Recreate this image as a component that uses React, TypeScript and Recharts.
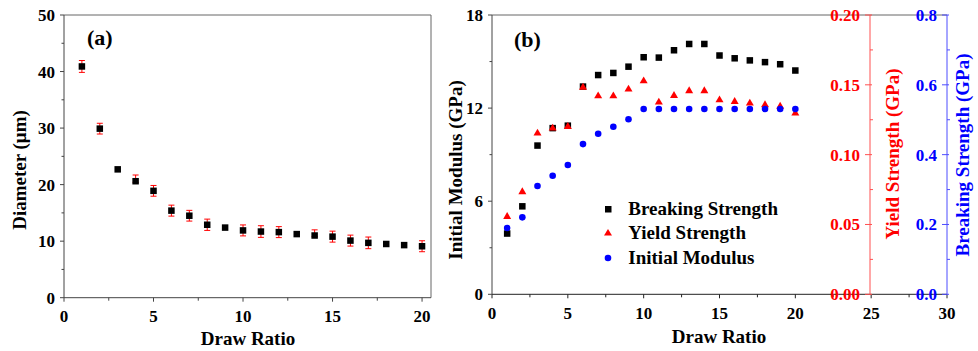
import React from 'react'
import {
  ScatterChart,
  Scatter,
  XAxis,
  YAxis,
  ErrorBar,
  ReferenceLine,
  Label,
  Legend,
} from 'recharts'

const drawRatio = [1, 2, 3, 4, 5, 6, 7, 8, 9, 10, 11, 12, 13, 14, 15, 16, 17, 18, 19, 20]

// (a) fibre diameter, µm
const diameter = [40.9, 29.9, 22.7, 20.6, 18.9, 15.4, 14.5, 12.9, 12.4, 11.9, 11.7, 11.6, 11.25, 11.0, 10.8, 10.1, 9.7, 9.5, 9.3, 9.1]
const diameterErr: (number | number[])[] = [1.05, 0.95, 0, [0.2, 1.1], 0.95, 0.97, 0.95, 1.0, 0, 0.97, 1.03, 0.97, 0, [0.2, 1.0], 0.97, 0.97, 1.03, 0, 0, 0.97]

// (b) mechanical properties
const breakingStrength = [0.174, 0.252, 0.426, 0.476, 0.483, 0.595, 0.628, 0.634, 0.652, 0.679, 0.678, 0.699, 0.717, 0.717, 0.684, 0.676, 0.67, 0.665, 0.659, 0.641]
const yieldStrength = [0.0556, 0.0733, 0.1153, 0.1189, 0.12, 0.1482, 0.142, 0.142, 0.1468, 0.1527, 0.1375, 0.1422, 0.1456, 0.1456, 0.1391, 0.1379, 0.1368, 0.1356, 0.1345, 0.1296]
const initialModulus = [4.27, 4.96, 6.98, 7.64, 8.33, 9.68, 10.35, 10.8, 11.28, 11.94, 11.94, 11.94, 11.94, 11.94, 11.94, 11.94, 11.94, 11.94, 11.94, 11.94]

const legendOrder = ['Breaking Strength', 'Yield Strength', 'Initial Modulus']

const xTicksA = [0, 2.5, 5, 7.5, 10, 12.5, 15, 17.5, 20]
const yTicksA = [0, 5, 10, 15, 20, 25, 30, 35, 40, 45, 50]
const xTicksB = [0, 2.5, 5, 7.5, 10, 12.5, 15, 17.5, 20, 22.5, 25, 27.5, 30]
const yTicksModulus = [0, 3, 6, 9, 12, 15, 18]
const yTicksYield = [0, 0.025, 0.05, 0.075, 0.1, 0.125, 0.15, 0.175, 0.2]
const yTicksBreaking = [0, 0.1, 0.2, 0.3, 0.4, 0.5, 0.6, 0.7, 0.8]

const FONT = '"Liberation Serif", "Times New Roman", serif'
const RED = '#ff0000'
const BLUE = '#0000ff'

const diameterData = drawRatio.map((x, i) => ({ x, y: diameter[i], err: diameterErr[i] }))
const breakingData = drawRatio.map((x, i) => ({ x, y: breakingStrength[i] }))
const yieldData = drawRatio.map((x, i) => ({ x, y: yieldStrength[i] }))
const modulusData = drawRatio.map((x, i) => ({ x, y: initialModulus[i] }))

type Side = 'bottom' | 'left' | 'right'

function makeTick(side: Side, fmt: (v: number) => string, color = '#000', lineColor = '#444', labelGap = 24) {
  return function Tick(props: any) {
    const { x, y, payload, index } = props
    const major = index % 2 === 0
    const textProps = { fontFamily: FONT, fontWeight: 700, fontSize: 17, fill: color }
    if (side === 'bottom') {
      return (
        <g>
          <line x1={x} y1={y} x2={x} y2={y + (major ? 4 : 3)} stroke={lineColor} />
          {major && (
            <text x={x} y={y + labelGap} textAnchor="middle" {...textProps}>
              {fmt(payload.value)}
            </text>
          )}
        </g>
      )
    }
    if (side === 'left') {
      return (
        <g>
          <line x1={x - (major ? 4 : 2.5)} y1={y} x2={x} y2={y} stroke={lineColor} />
          {major && (
            <text x={x - 9} y={y + 6} textAnchor="end" {...textProps}>
              {fmt(payload.value)}
            </text>
          )}
        </g>
      )
    }
    return (
      <g>
        {major ? (
          <line x1={x - 5} y1={y} x2={x + 2} y2={y} stroke={lineColor} />
        ) : (
          <line x1={x} y1={y} x2={x + 3} y2={y} stroke={lineColor} />
        )}
        {major && (
          <text x={x - 10} y={y + 6} textAnchor="end" {...textProps}>
            {fmt(payload.value)}
          </text>
        )}
      </g>
    )
  }
}

const titleStyle = { fontFamily: FONT, fontWeight: 700, fontSize: 19 }

function vTitle(text: string, cx: number, cy: number, color = '#000') {
  return () => (
    <text
      x={cx}
      y={cy}
      dy="0.35em"
      transform={`rotate(-90 ${cx} ${cy})`}
      textAnchor="middle"
      fill={color}
      {...titleStyle}
    >
      {text}
    </text>
  )
}

function hText(text: string, x: number, y: number, size = 19, anchor: 'middle' | 'start' = 'middle') {
  return () => (
    <text x={x} y={y} textAnchor={anchor} fill="#000" {...titleStyle} fontSize={size}>
      {text}
    </text>
  )
}

const square = (s: number, color: string) => (props: any) => (
  <rect x={props.cx - s / 2} y={props.cy - s / 2} width={s} height={s} fill={color} />
)
const triangle = (s: number, color: string) => (props: any) => {
  const h = (s * Math.sqrt(3)) / 2
  const { cx, cy } = props
  return (
    <polygon
      points={`${cx},${cy - (2 * h) / 3} ${cx - s / 2},${cy + h / 3} ${cx + s / 2},${cy + h / 3}`}
      fill={color}
    />
  )
}
const circle = (d: number, color: string) => (props: any) => (
  <circle cx={props.cx} cy={props.cy} r={d / 2} fill={color} />
)

function LegendMarker({ type }: { type: string }) {
  return (
    <svg width={20} height={20}>
      {type === 'square' && <rect x={7} y={7} width={6.5} height={6.5} fill="#000" />}
      {type === 'triangle' && <polygon points="10,6 6,12.6 14,12.6" fill={RED} />}
      {type === 'circle' && <circle cx={10} cy={10} r={3.3} fill={BLUE} />}
    </svg>
  )
}

function renderLegend(props: any) {
  const items = [...(props.payload || [])].sort(
    (a: any, b: any) => legendOrder.indexOf(a.value) - legendOrder.indexOf(b.value),
  )
  return (
    <div style={{ fontFamily: FONT, fontWeight: 700, fontSize: 19 }}>
      {items.map((item: any) => (
        <div key={item.value} style={{ display: 'flex', alignItems: 'center', height: 24.4 }}>
          <LegendMarker type={item.type} />
          <span style={{ marginLeft: 10.6, lineHeight: '24.4px' }}>{item.value}</span>
        </div>
      ))}
    </div>
  )
}

function DiameterPanel() {
  return (
    <ScatterChart width={440} height={351} margin={{ top: 15, right: 9, bottom: 0, left: 0 }}>
      <XAxis
        type="number"
        dataKey="x"
        domain={[0, 20.5]}
        ticks={xTicksA}
        interval={0}
        height={53.3}
        tickSize={0}
        tickMargin={0}
        tickLine={false}
        axisLine={{ stroke: '#444' }}
        tick={makeTick('bottom', (v) => String(v))}
      >
        <Label content={hText('Draw Ratio', 248, 345)} />
        <Label content={hText('(a)', 87, 45, 22, 'start')} />
      </XAxis>
      <YAxis
        type="number"
        dataKey="y"
        domain={[0, 50]}
        ticks={yTicksA}
        interval={0}
        width={64}
        tickSize={0}
        tickMargin={0}
        tickLine={false}
        axisLine={{ stroke: '#444' }}
        tick={makeTick('left', (v) => String(v))}
      >
        <Label content={vTitle('Diameter (μm)', 19, 170)} />
      </YAxis>
      <ReferenceLine y={50} stroke="#666" />
      <ReferenceLine x={20.5} stroke="#666" />
      <Scatter data={diameterData} fill="#000" shape={square(6.5, '#000')} isAnimationActive={false}>
        <ErrorBar dataKey="err" direction="y" width={3} stroke={RED} strokeWidth={1} />
      </Scatter>
    </ScatterChart>
  )
}

function PropertiesPanel() {
  return (
    <ScatterChart width={538} height={351} margin={{ top: 15, right: 31, bottom: 0, left: 0 }}>
      <XAxis
        type="number"
        dataKey="x"
        domain={[0, 30]}
        ticks={xTicksB}
        interval={0}
        height={56.7}
        tickSize={0}
        tickMargin={0}
        tickLine={false}
        axisLine={{ stroke: '#222' }}
        tick={makeTick('bottom', (v) => String(v), '#000', '#222', 25)}
      >
        <Label content={hText('Draw Ratio', 279, 343)} />
        <Label content={hText('(b)', 74, 47, 22, 'start')} />
      </XAxis>
      <YAxis
        yAxisId="left"
        orientation="left"
        type="number"
        dataKey="y"
        domain={[0, 18]}
        ticks={yTicksModulus}
        interval={0}
        width={52}
        tickSize={0}
        tickMargin={0}
        tickLine={false}
        axisLine={{ stroke: '#444' }}
        tick={makeTick('left', (v) => String(v))}
      >
        <Label content={vTitle('Initial Modulus (GPa)', 15, 170)} />
      </YAxis>
      <YAxis
        yAxisId="blue"
        orientation="right"
        mirror
        type="number"
        dataKey="y"
        domain={[0, 0.8]}
        ticks={yTicksBreaking}
        interval={0}
        width={77}
        tickSize={0}
        tickMargin={0}
        tickLine={false}
        axisLine={{ stroke: '#4d4dff' }}
        tick={makeTick('right', (v) => v.toFixed(1), BLUE, '#4d4dff')}
      >
        <Label content={vTitle('Breaking Strength (GPa)', 522, 155, BLUE)} />
      </YAxis>
      <YAxis
        yAxisId="red"
        orientation="right"
        mirror
        type="number"
        dataKey="y"
        domain={[0, 0.2]}
        ticks={yTicksYield}
        interval={0}
        width={60}
        tickSize={0}
        tickMargin={0}
        tickLine={false}
        axisLine={{ stroke: '#ff5050' }}
        tick={makeTick('right', (v) => v.toFixed(2), RED, '#ff5050')}
      >
        <Label content={vTitle('Yield Strength (GPa)', 452, 154, RED)} />
      </YAxis>
      <ReferenceLine yAxisId="left" y={18} stroke="#666" />
      <Legend
        layout="vertical"
        align="center"
        verticalAlign="middle"
        wrapperStyle={{ position: 'absolute', left: 157.7, top: 196.8, width: 'auto' }}
        content={renderLegend}
      />
      <Scatter
        name="Breaking Strength"
        yAxisId="blue"
        data={breakingData}
        fill="#000"
        legendType="square"
        shape={square(6.5, '#000')}
        isAnimationActive={false}
      />
      <Scatter
        name="Yield Strength"
        yAxisId="red"
        data={yieldData}
        fill={RED}
        legendType="triangle"
        shape={triangle(8, RED)}
        isAnimationActive={false}
      />
      <Scatter
        name="Initial Modulus"
        yAxisId="left"
        data={modulusData}
        fill={BLUE}
        legendType="circle"
        shape={circle(6.6, BLUE)}
        isAnimationActive={false}
      />
    </ScatterChart>
  )
}

export default function App() {
  return (
    <div style={{ position: 'absolute', left: 0, top: 0, width: 978, height: 351, background: '#fff' }}>
      <div style={{ position: 'absolute', left: 0, top: 0 }}>
        <DiameterPanel />
      </div>
      <div style={{ position: 'absolute', left: 440, top: 0 }}>
        <PropertiesPanel />
      </div>
    </div>
  )
}
